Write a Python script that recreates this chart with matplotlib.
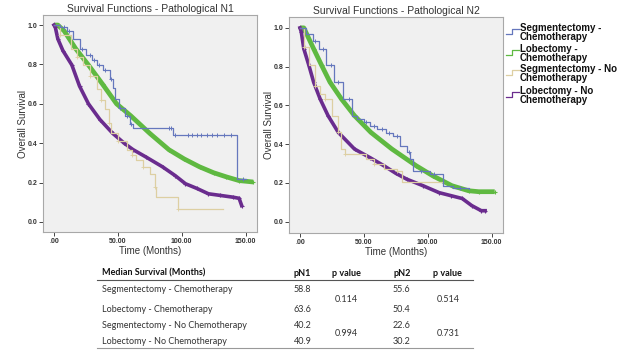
import numpy as np
import matplotlib
matplotlib.use("Agg")
import matplotlib.pyplot as plt
from matplotlib.lines import Line2D

# ---------------- data ----------------
series_names = ["Segmentectomy -\nChemotherapy", "Lobectomy -\nChemotherapy",
                "Segmentectomy - No\nChemotherapy", "Lobectomy - No\nChemotherapy"]
colors = ["#6577bd", "#5fb941", "#ddcfa2", "#6a2c8e"]

# Pathological N1
n1_seg_chemo_t = [0, 5, 10, 15, 20.7, 25, 30, 33.6, 38, 44, 46, 48, 51, 55.6, 59.5, 62, 93, 143.5, 150]
n1_seg_chemo_s = [1.0, 0.99, 0.97, 0.93, 0.88, 0.85, 0.82, 0.797, 0.77, 0.728, 0.68, 0.625, 0.58, 0.539, 0.496, 0.478, 0.44, 0.22, 0.22]
n1_seg_chemo_cens = [8, 12, 22, 28, 31, 35, 40, 45, 52, 57, 60, 90, 92, 95, 105, 108, 112, 115, 120, 124, 128, 133, 139, 148]
n1_lob_chemo_t = [0, 3, 8, 17, 27, 38, 49, 60, 75, 90, 102, 114, 125, 135, 145, 156]
n1_lob_chemo_s = [1.0, 1.0, 0.97, 0.88, 0.797, 0.70, 0.60, 0.54, 0.45, 0.367, 0.32, 0.28, 0.25, 0.229, 0.21, 0.203]
n1_seg_nochemo_t = [0, 5, 13, 18, 23, 28, 33.6, 37, 40, 43, 45, 50, 57, 61, 64.6, 70, 75, 79, 80, 97, 132]
n1_seg_nochemo_s = [1.0, 0.95, 0.88, 0.84, 0.797, 0.74, 0.676, 0.62, 0.573, 0.50, 0.45, 0.41, 0.367, 0.34, 0.315, 0.28, 0.246, 0.177, 0.126, 0.065, 0.065]
n1_lob_nochemo_t = [0, 1, 3, 7, 14, 20, 27, 36, 46, 55, 62, 72, 85, 95, 103, 112, 121, 130, 140, 145, 147]
n1_lob_nochemo_s = [1.0, 0.99, 0.93, 0.87, 0.797, 0.69, 0.60, 0.52, 0.45, 0.40, 0.367, 0.33, 0.28, 0.235, 0.194, 0.17, 0.143, 0.135, 0.126, 0.12, 0.083]

# Pathological N2
n2_seg_chemo_t = [0, 5, 10, 14.6, 20, 27, 33.7, 41, 45, 50, 55, 60.5, 67, 73, 78, 83.5, 86, 88.7, 101.5, 111.7, 120, 132]
n2_seg_chemo_s = [1.0, 0.97, 0.93, 0.892, 0.806, 0.72, 0.633, 0.547, 0.53, 0.513, 0.495, 0.478, 0.46, 0.444, 0.392, 0.358, 0.324, 0.263, 0.246, 0.186, 0.175, 0.167]
n2_seg_chemo_cens = [12, 18, 24, 30, 38, 52, 58, 64, 70, 76, 85, 95, 105, 125]
n2_lob_chemo_t = [0, 3, 10.7, 17, 23.5, 32.5, 42.7, 55.5, 72, 91, 104, 119, 132, 140, 152.5]
n2_lob_chemo_s = [1.0, 1.0, 0.892, 0.806, 0.72, 0.633, 0.547, 0.461, 0.375, 0.289, 0.237, 0.186, 0.16, 0.155, 0.155]
n2_seg_nochemo_t = [0, 3, 7, 12, 16, 19.7, 24.8, 29.9, 32.5, 35, 51.6, 58, 66, 75.9, 80, 111.7]
n2_seg_nochemo_s = [1.0, 0.90, 0.806, 0.70, 0.66, 0.633, 0.547, 0.461, 0.375, 0.349, 0.324, 0.30, 0.272, 0.26, 0.203, 0.203]
n2_lob_nochemo_t = [0, 1, 3, 7, 10.7, 15.8, 22, 30, 42.7, 55, 65.7, 75, 83.5, 96.3, 109, 118, 127, 134.6, 142, 145]
n2_lob_nochemo_s = [1.0, 0.98, 0.892, 0.806, 0.72, 0.633, 0.547, 0.461, 0.375, 0.33, 0.289, 0.25, 0.22, 0.186, 0.15, 0.135, 0.12, 0.083, 0.057, 0.057]

x_ticks = [0, 50, 100, 150]
x_ticklabels = [".00", "50.00", "100.00", "150.00"]
y_ticks = [0.0, 0.2, 0.4, 0.6, 0.8, 1.0]
y_ticklabels = ["0.0", "0.2", "0.4", "0.6", "0.8", "1.0"]

table_header = ["Median Survival (Months)", "pN1", "p value", "pN2", "p value"]
table_rows = ["Segmentectomy - Chemotherapy", "Lobectomy - Chemotherapy",
              "Segmentectomy - No Chemotherapy", "Lobectomy - No Chemotherapy"]
pn1_median = ["58.8", "63.6", "40.2", "40.9"]
pn2_median = ["55.6", "50.4", "22.6", "30.2"]
pn1_pvalues = ["0.114", "0.994"]
pn2_pvalues = ["0.514", "0.731"]

# ---------------- figure ----------------
W, H = 624, 351
fig = plt.figure(figsize=(W / 100, H / 100), dpi=100)
fig.patch.set_facecolor("white")
FONT = ["Liberation Sans", "DejaVu Sans"]

def px_rect(x0, y0, x1, y1):
    return [x0 / W, 1 - y1 / H, (x1 - x0) / W, (y1 - y0) / H]

def step_val(t, s, x):
    t = np.asarray(t); s = np.asarray(s)
    idx = np.searchsorted(t, x, side="right") - 1
    return s[np.clip(idx, 0, len(s) - 1)]

def draw_panel(ax, title, seg_c, lob_c, seg_n, lob_n, cens, ylim):
    ax.set_facecolor("#f0f0f0")
    ax.plot(lob_c[0], lob_c[1], color=colors[1], lw=3.4, solid_capstyle="butt", zorder=2)
    ax.plot(lob_c[0], lob_c[1], color=colors[1], lw=0, marker="+", ms=3.5, mew=0.8, zorder=2)
    ax.plot(lob_n[0], lob_n[1], color=colors[3], lw=2.6, zorder=3)
    ax.plot(lob_n[0], lob_n[1], color=colors[3], lw=0, marker="+", ms=3.5, mew=0.8, zorder=3)
    ax.step(seg_n[0], seg_n[1], where="post", color=colors[2], lw=0.9, zorder=4)
    ax.plot(seg_n[0][1:-1:2], seg_n[1][1:-1:2], ls="none", marker="+", ms=3, mew=0.6, color=colors[2], zorder=4)
    ax.step(seg_c[0], seg_c[1], where="post", color=colors[0], lw=0.9, zorder=5)
    ax.plot(cens, step_val(seg_c[0], seg_c[1], cens), ls="none", marker="+", ms=3.5, mew=0.7,
            color=colors[0], zorder=5)
    ax.set_xlim(-8.6, 159)
    ax.set_ylim(*ylim)
    ax.set_xticks(x_ticks)
    ax.set_xticklabels(x_ticklabels, fontsize=5, fontweight="bold", family=FONT, color="#333333")
    ax.set_yticks(y_ticks)
    ax.set_yticklabels(y_ticklabels, fontsize=5, fontweight="bold", family=FONT, color="#333333")
    ax.tick_params(length=3.2, width=0.7, colors="#444444", pad=0.8)
    ax.tick_params(labelcolor="#333333")
    for sp in ax.spines.values():
        sp.set_color("#a8a8a8")
        sp.set_linewidth(0.8)
    ax.set_title(title, fontsize=7.5, family=FONT, color="#333333", pad=2)
    ax.set_ylabel("Overall Survival", fontsize=7, family=FONT, color="#333333", labelpad=0)
    ax.set_xlabel("Time (Months)", fontsize=7, family=FONT, color="#333333", labelpad=1)

ax1 = fig.add_axes(px_rect(43, 15, 257, 232))
draw_panel(ax1, "Survival Functions - Pathological N1",
           (n1_seg_chemo_t, n1_seg_chemo_s), (n1_lob_chemo_t, n1_lob_chemo_s),
           (n1_seg_nochemo_t, n1_seg_nochemo_s), (n1_lob_nochemo_t, n1_lob_nochemo_s),
           n1_seg_chemo_cens, (-0.051, 1.051))
ax2 = fig.add_axes(px_rect(289, 17, 503, 233))
draw_panel(ax2, "Survival Functions - Pathological N2",
           (n2_seg_chemo_t, n2_seg_chemo_s), (n2_lob_chemo_t, n2_lob_chemo_s),
           (n2_seg_nochemo_t, n2_seg_nochemo_s), (n2_lob_nochemo_t, n2_lob_nochemo_s),
           n2_seg_chemo_cens, (-0.058, 1.056))

# ---------------- legend (manual) ----------------
leg_y = [28, 49, 69, 91]
for name, c, y in zip(series_names, colors, leg_y):
    xs = [506 / W, 512 / W, 512 / W, 519 / W]
    ys = [1 - (y + 6) / H, 1 - (y + 6) / H, 1 - (y + 1) / H, 1 - (y + 1) / H]
    fig.add_artist(Line2D(xs, ys, color=c, lw=0.9))
    fig.text(520 / W, 1 - (y - 5) / H, name, fontsize=7, fontweight="bold", family=FONT,
             va="top", ha="left", linespacing=0.85, color="#111111")

# ---------------- table ----------------
TFONT = ["Lato", "DejaVu Sans"]
FS = 6.5
hdr_y = 273
row_y = [290, 309, 325, 341]
col_x = [102, 294, 332, 393, 433]
pv_center = [346, 448]
fig.text(col_x[0] / W, 1 - hdr_y / H, table_header[0], fontsize=FS, fontweight="bold",
         family=TFONT, va="center", ha="left", color="#111111")
for j in range(1, 5):
    fig.text(col_x[j] / W, 1 - hdr_y / H, table_header[j], fontsize=FS, fontweight="bold",
             family=TFONT, va="center", ha="left", color="#111111")
for i, name in enumerate(table_rows):
    y = 1 - row_y[i] / H
    fig.text(col_x[0] / W, y, name, fontsize=FS, family=TFONT, va="center", ha="left", color="#333333")
    fig.text(col_x[1] / W, y, pn1_median[i], fontsize=FS, family=TFONT, va="center", ha="left", color="#333333")
    fig.text(col_x[3] / W, y, pn2_median[i], fontsize=FS, family=TFONT, va="center", ha="left", color="#333333")
for k in range(2):
    y = 1 - (row_y[2 * k] + row_y[2 * k + 1]) / 2 / H
    fig.text(pv_center[0] / W, y, pn1_pvalues[k], fontsize=FS, family=TFONT, va="center", ha="center", color="#333333")
    fig.text(pv_center[1] / W, y, pn2_pvalues[k], fontsize=FS, family=TFONT, va="center", ha="center", color="#333333")
fig.add_artist(Line2D([97 / W, 473 / W], [1 - 280 / H, 1 - 280 / H], color="#555555", lw=0.8))
fig.add_artist(Line2D([97 / W, 473 / W], [1 - 348 / H, 1 - 348 / H], color="#999999", lw=0.8))

fig.savefig("out.png", dpi=100, facecolor="white")
